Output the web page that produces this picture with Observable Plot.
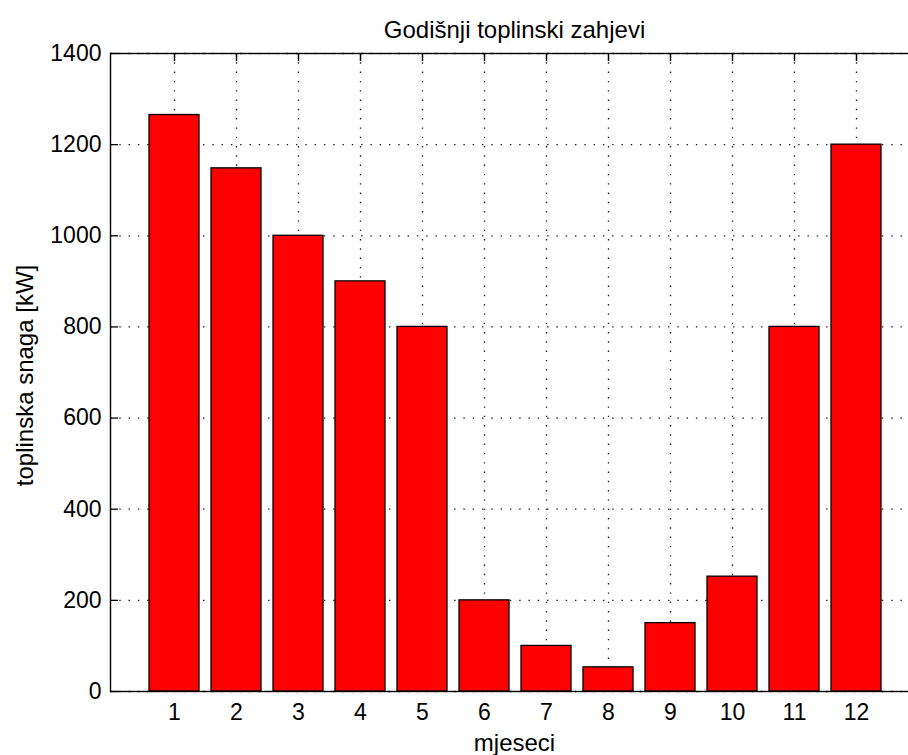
<!DOCTYPE html>
<html>
<head>
<meta charset="utf-8">
<script src="https://cdn.jsdelivr.net/npm/d3@7"></script>
<script src="https://cdn.jsdelivr.net/npm/@observablehq/plot@0.6"></script>
<style>
  html, body { margin: 0; padding: 0; background: #fff; overflow: hidden; }
  #chart svg { overflow: hidden; display: block; }
</style>
</head>
<body>
<div id="chart"></div>
<script>
const months = [1, 2, 3, 4, 5, 6, 7, 8, 9, 10, 11, 12];
const values = [1265, 1148, 1000, 900, 800, 200, 100, 53, 150, 252, 800, 1200];
const yTicks = [0, 200, 400, 600, 800, 1000, 1200, 1400];
const title = "Godišnji toplinski zahjevi";
const xLabel = "mjeseci";
const yLabel = "toplinska snaga [kW]";

const data = months.map((m, i) => ({month: m, value: values[i]}));

const W = 908, H = 755;
const mL = 110, mT = 53, mB = 64, mR = -10;
const frameW = W - mL - mR, frameH = H - mT - mB;
const dotted = {stroke: "#1a1a1a", strokeWidth: 1.3, strokeDasharray: "1.4,7.9"};

const chart = Plot.plot({
  width: W,
  height: H,
  marginLeft: mL,
  marginTop: mT,
  marginBottom: mB,
  marginRight: mR,
  style: {fontFamily: "'Liberation Sans', Arial, sans-serif", background: "#fff", color: "#000", overflow: "hidden"},
  x: {type: "band", domain: months, range: [mL, 918.6], paddingInner: 0.2, paddingOuter: 0.6},
  y: {domain: [0, 1400]},
  marks: [
    // dotted grid
    Plot.ruleX(months, {x: d => d, ...dotted}),
    Plot.ruleY(yTicks, {y: d => d, ...dotted}),
    // inward ticks on left and top
    Plot.ruleY(yTicks, {y: d => d, stroke: "#000", strokeWidth: 1.3, insetRight: frameW - 8}),
    Plot.ruleX(months, {x: d => d, stroke: "#000", strokeWidth: 1.5, insetBottom: frameH - 8}),
    // bars
    Plot.barY(data, {x: "month", y: "value", fill: "#ff0000", stroke: "#000", strokeWidth: 1.3}),
    // frame (right side falls outside the picture)
    Plot.frame({stroke: "#000", strokeWidth: 1.4}),
    // axes labels
    Plot.axisY({ticks: yTicks, tickSize: 0, tickPadding: 9, fontSize: 23, label: null, tickFormat: d => String(d)}),
    Plot.axisX({tickSize: 0, tickPadding: 12, fontSize: 23, label: null}),
    // titles
    Plot.text([title], {frameAnchor: "top", lineAnchor: "bottom", dy: -16, fontSize: 24, fill: "#000"}),
    Plot.text([xLabel], {frameAnchor: "bottom", lineAnchor: "bottom", dy: 59, fontSize: 24, fill: "#000"}),
    Plot.text([yLabel], {frameAnchor: "left", textAnchor: "middle", lineAnchor: "bottom", rotate: -90, dx: -78, dy: 3, fontSize: 24, fill: "#000"})
  ]
});
document.getElementById("chart").appendChild(chart);
</script>
</body>
</html>
